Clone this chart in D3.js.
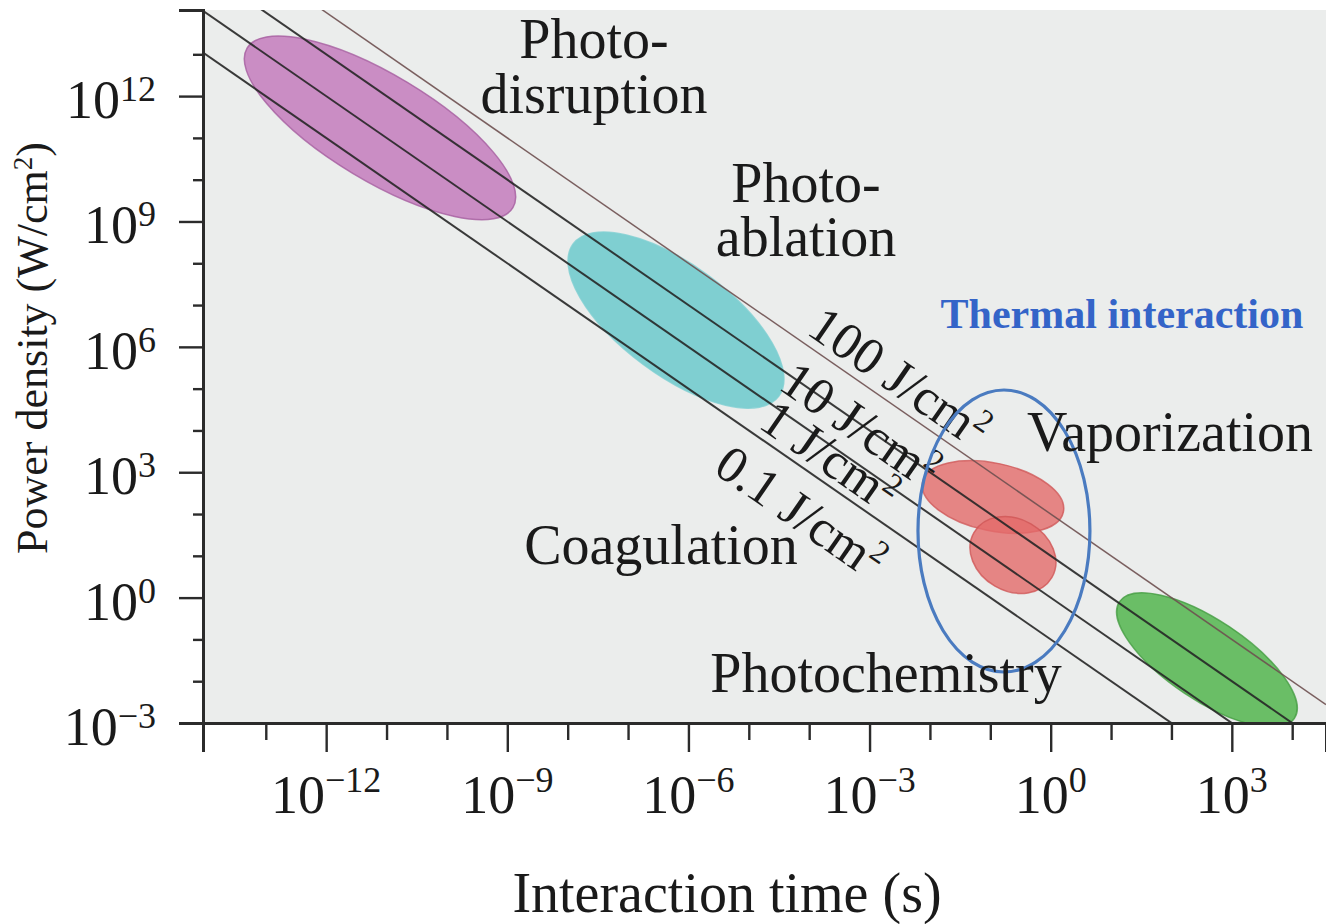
<!DOCTYPE html>
<html><head><meta charset="utf-8">
<script src="https://cdn.jsdelivr.net/npm/d3@7/dist/d3.min.js"></script>
<style>
body{margin:0;background:#fff;}
svg{display:block;}
text{font-family:"Liberation Serif","Times New Roman",serif;fill:#1a1a1a;}
</style>
</head><body>
<svg id="chart" width="1326" height="924"></svg>
<script>
// ---------------- data ----------------
const xTickExponents = [-12, -9, -6, -3, 0, 3];
const yTickExponents = [-3, 0, 3, 6, 9, 12];
const xMinorExponents = [-13, -11, -10, -8, -7, -5, -4, -2, -1, 1, 2, 4];
const yMinorExponents = [-2, -1, 1, 2, 4, 5, 7, 8, 10, 11, 13];
const xTickLabels = ["−12", "−9", "−6", "−3", "0", "3"];
const yTickLabels = ["−3", "0", "3", "6", "9", "12"];

const fluences = [0.1, 1, 10, 100];                 // J/cm^2
const fluenceLabels = ["0.1 J/cm", "1 J/cm", "10 J/cm", "100 J/cm"];

// regions: major-axis end points in log10 units (time s, power W/cm^2), minor half-width in power decades
const regionNames   = ["Photodisruption", "Photoablation", "Vaporization", "Coagulation", "Photochemistry"];
const regionLogT1   = [-13.31, -7.91, -2.122, -1.271, 1.14];
const regionLogP1   = [13.15, 8.46, 2.767, 1.558, -0.097];
const regionLogT2   = [-8.907, -4.502, 0.210, 0.021, 4.036];
const regionLogP2   = [9.33, 4.82, 2.049, 0.482, -2.888];
const regionHalfW   = [1.27, 1.32, 0.81, 0.86, 0.96];

// thermal-interaction annotation ellipse (log10 extents)
const thermalLogT = [-2.198, 0.650];
const thermalLogP = [-1.78, 4.968];

const xDomainExp = [-14.04, 4.56];
const yDomainExp = [-3, 14.06];

// ---------------- layout ----------------
const svg = d3.select("#chart");
const plot = {left: 203, right: 1326, top: 10, bottom: 723};

const x = d3.scaleLog().domain(xDomainExp.map(e => Math.pow(10, e))).range([plot.left, plot.right]);
const y = d3.scaleLog().domain(yDomainExp.map(e => Math.pow(10, e))).range([plot.bottom, plot.top]);

svg.append("defs").append("clipPath").attr("id", "clip")
  .append("rect").attr("x", plot.left).attr("y", plot.top)
  .attr("width", plot.right - plot.left).attr("height", plot.bottom - plot.top);

svg.append("rect").attr("x", plot.left).attr("y", plot.top)
  .attr("width", plot.right - plot.left).attr("height", plot.bottom - plot.top)
  .attr("fill", "#ebedec");

const gClip = svg.append("g").attr("clip-path", "url(#clip)");

// ---------------- region ellipses ----------------
const regionFill   = ["#c47bbd", "#6cc9cc", "#e36a6a", "#e36a6a", "#5cb858"];
const regionStroke = ["#a55c9f", "#7fcfd2", "#cf5656", "#cf5656", "#439c41"];
const regionOpacity = [0.85, 0.85, 0.8, 0.8, 0.9];

const ySpan = Math.abs(y(1) - y(10)); // px per power decade
regionNames.forEach((name, i) => {
  const x1 = x(Math.pow(10, regionLogT1[i])), y1 = y(Math.pow(10, regionLogP1[i]));
  const x2 = x(Math.pow(10, regionLogT2[i])), y2 = y(Math.pow(10, regionLogP2[i]));
  const cx = (x1 + x2) / 2, cy = (y1 + y2) / 2;
  const a = Math.hypot(x2 - x1, y2 - y1) / 2;
  const b = regionHalfW[i] * ySpan;
  const ang = Math.atan2(y2 - y1, x2 - x1) * 180 / Math.PI;
  gClip.append("ellipse")
    .attr("cx", 0).attr("cy", 0).attr("rx", a).attr("ry", b)
    .attr("transform", `translate(${cx},${cy}) rotate(${ang})`)
    .attr("fill", regionFill[i]).attr("fill-opacity", regionOpacity[i])
    .attr("stroke", regionStroke[i]).attr("stroke-width", 1.5).attr("stroke-opacity", 0.8);
});

// ---------------- fluence lines ----------------
const tA = Math.pow(10, xDomainExp[0]), tB = Math.pow(10, xDomainExp[1]);
const lineGen = d3.line().x(d => x(d[0])).y(d => y(d[1]));
fluences.forEach((F, i) => {
  gClip.append("path")
    .attr("d", lineGen([[tA, F / tA], [tB, F / tB]]))
    .attr("fill", "none")
    .attr("stroke", F === 100 ? "#6e5050" : "#262626")
    .attr("stroke-width", F === 100 ? 1.5 : 2)
    .attr("stroke-opacity", 0.9);
});

// line labels
const theta = Math.atan2(y(1 / tB) - y(1 / tA), x(tB) - x(tA));
const thetaDeg = theta * 180 / Math.PI;
const labelAnchorX = [743, 772, 787, 800];
const labelOffset  = [55, 26.6, 18, -9];
fluences.forEach((F, i) => {
  const ax = labelAnchorX[i];
  const t = x.invert(ax);
  const ay = y(F / t);
  const off = labelOffset[i];
  const bx = ax - off * Math.sin(theta), by = ay + off * Math.cos(theta);
  const tx = svg.append("text")
    .attr("transform", `translate(${bx},${by}) rotate(${thetaDeg})`)
    .attr("font-size", 52);
  tx.append("tspan").text(fluenceLabels[i]);
  tx.append("tspan").attr("font-size", 32).attr("dy", -19).text("2");
});

// thermal annotation ellipse
{
  const x1 = x(Math.pow(10, thermalLogT[0])), x2 = x(Math.pow(10, thermalLogT[1]));
  const y1 = y(Math.pow(10, thermalLogP[1])), y2 = y(Math.pow(10, thermalLogP[0]));
  svg.append("ellipse")
    .attr("cx", (x1 + x2) / 2).attr("cy", (y1 + y2) / 2)
    .attr("rx", (x2 - x1) / 2).attr("ry", (y2 - y1) / 2)
    .attr("fill", "none").attr("stroke", "#4a7bc0").attr("stroke-width", 3.2);
}

// ---------------- axes ----------------
const axisColor = "#2b2b2b";
const yAxisMinor = d3.axisLeft(y).tickValues(yMinorExponents.map(e => Math.pow(10, e))).tickSize(10).tickFormat("");
const yAxisMajor = d3.axisLeft(y).tickValues(yTickExponents.map(e => Math.pow(10, e))).tickSize(24).tickFormat("");
const xAxisMinor = d3.axisBottom(x).tickValues(xMinorExponents.map(e => Math.pow(10, e))).tickSize(17).tickFormat("");
const xAxisMajor = d3.axisBottom(x).tickValues(xTickExponents.map(e => Math.pow(10, e))).tickSize(29).tickFormat("");

function styleAxis(g) {
  g.selectAll("path").attr("stroke", axisColor).attr("stroke-width", 3);
  g.selectAll("line").attr("stroke", axisColor).attr("stroke-width", 2.4);
}
svg.append("g").attr("transform", `translate(${plot.left},0)`).call(yAxisMinor).call(styleAxis);
svg.append("g").attr("transform", `translate(${plot.left},0)`).call(yAxisMajor).call(styleAxis);
svg.append("g").attr("transform", `translate(0,${plot.bottom})`).call(xAxisMinor).call(styleAxis);
svg.append("g").attr("transform", `translate(0,${plot.bottom})`).call(xAxisMajor).call(styleAxis);

// tick labels
yTickExponents.forEach((e, i) => {
  const t = svg.append("text").attr("x", 156).attr("y", y(Math.pow(10, e)) + 22)
    .attr("text-anchor", "end").attr("font-size", 54);
  t.append("tspan").text("10");
  t.append("tspan").attr("font-size", 36).attr("dy", -17).text(yTickLabels[i]);
});
xTickExponents.forEach((e, i) => {
  const t = svg.append("text").attr("x", x(Math.pow(10, e))).attr("y", 813)
    .attr("text-anchor", "middle").attr("font-size", 54);
  t.append("tspan").text("10");
  t.append("tspan").attr("font-size", 36).attr("dy", -21).text(xTickLabels[i]);
});

// axis titles
svg.append("text").attr("x", 727).attr("y", 912).attr("text-anchor", "middle")
  .attr("font-size", 56).text("Interaction time (s)");
{
  const t = svg.append("text").attr("transform", "translate(47,348) rotate(-90)")
    .attr("text-anchor", "middle").attr("font-size", 44);
  t.append("tspan").text("Power density (W/cm");
  t.append("tspan").attr("font-size", 27).attr("dy", -15).text("2");
  t.append("tspan").attr("dy", 15).text(")");
}

// region labels
const regionLabelLines = [["Photo-", "disruption"], ["Photo-", "ablation"], ["Vaporization"], ["Coagulation"], ["Photochemistry"]];
const regionLabelPos = [[594, 58, 113], [806, 202, 256], [1170, 451], [661, 564], [886, 692]];
regionLabelLines.forEach((lines, i) => {
  const p = regionLabelPos[i];
  lines.forEach((s, j) => {
    svg.append("text").attr("x", p[0]).attr("y", p[1 + j]).attr("text-anchor", "middle")
      .attr("font-size", 56).text(s);
  });
});

svg.append("text").attr("x", 1122).attr("y", 328).attr("text-anchor", "middle")
  .attr("font-size", 42).attr("font-weight", "bold").style("fill", "#3464c8")
  .text("Thermal interaction");
</script>
</body></html>
